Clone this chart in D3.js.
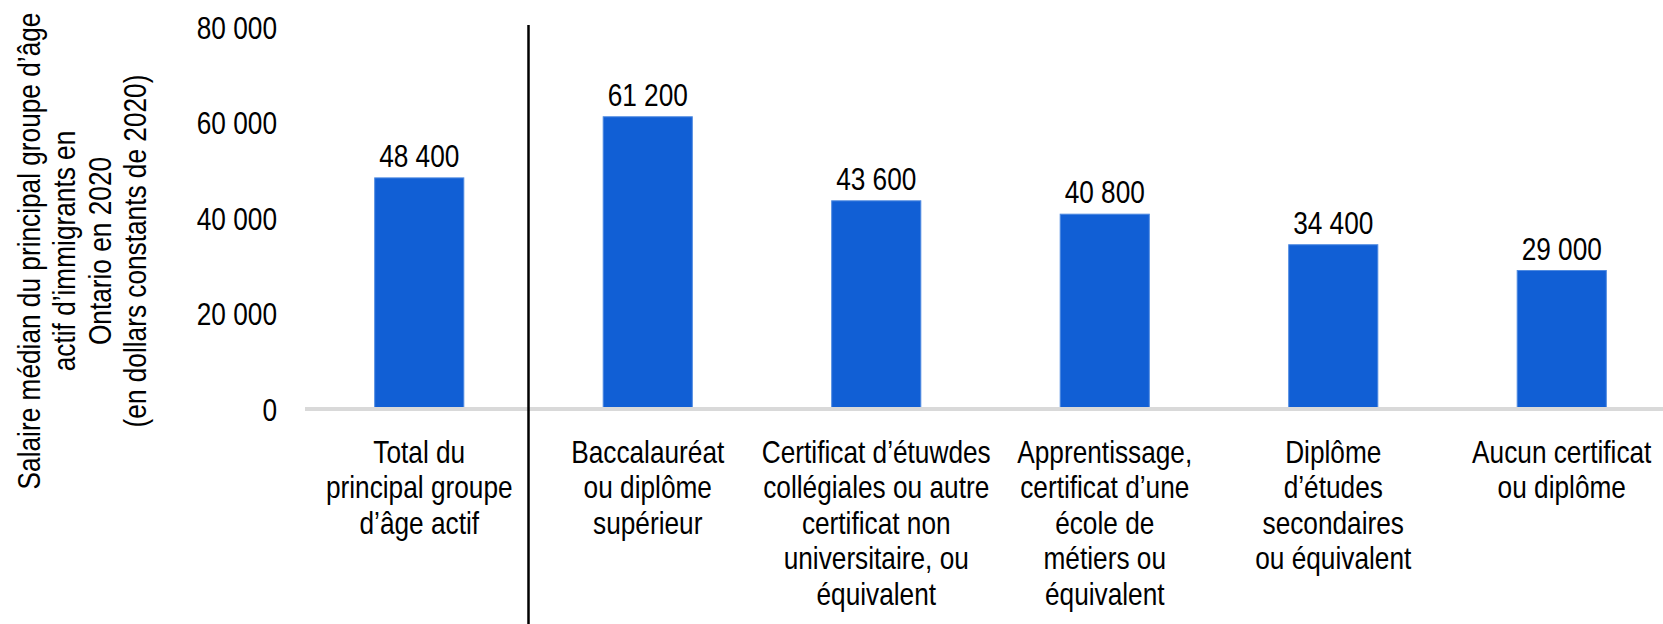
<html>
<head>
	<title>Salaire médian</title>
	<meta charset="utf-8">
	<script src="https://d3js.org/d3.v7.min.js"></script>
	<style>
		body { margin: 0; background: #fff; }
		text { font-family: "Liberation Sans", Arial, sans-serif; font-size: 32px; fill: #000; }
	</style>
</head>
<body>
	<script type="text/javascript">
		var width = 1663
		var height = 624
		var narrow = 0.82 // squeeze Liberation Sans to look like Arial Narrow

		// data
		var categories = ["total", "bac", "college", "apprent", "secondaire", "aucun"]
		var categoryLines = [
			["Total du", "principal groupe", "d\u2019âge actif"],
			["Baccalauréat", "ou diplôme", "supérieur"],
			["Certificat d\u2019étuwdes", "collégiales ou autre", "certificat non", "universitaire, ou", "équivalent"],
			["Apprentissage,", "certificat d\u2019une", "école de", "métiers ou", "équivalent"],
			["Diplôme", "d\u2019études", "secondaires", "ou équivalent"],
			["Aucun certificat", "ou diplôme"]
		]
		var salaries = [48400, 61200, 43600, 40800, 34400, 29000]
		var yTicks = [0, 20000, 40000, 60000, 80000]
		var yTitleLines = ["Salaire médian du principal groupe d\u2019âge", "actif d\u2019immigrants en", "Ontario en 2020", "(en dollars constants de 2020)"]

		var fmt = function(v) { return d3.format(",")(v).replace(/,/g, " ") }

		var svg = d3.select("body").append("svg")
			.attr("width", width)
			.attr("height", height)

		var x = d3.scaleBand()
			.domain(categories)
			.range([305, 1676])
			.paddingInner(0.61)
			.paddingOuter(0.305)

		var y = d3.scaleLinear()
			.domain([0, 80000])
			.range([409, 27])

		// y tick labels
		svg.selectAll(".ytick")
			.data(yTicks)
			.enter()
			.append("g")
			.attr("class", "ytick")
			.attr("transform", d => "translate(277," + y(d) + ") scale(" + narrow + ",1)")
			.append("text")
			.attr("dy", "0.36em")
			.attr("text-anchor", "end")
			.text(d => fmt(d))

		// bars
		svg.selectAll(".bar")
			.data(salaries)
			.enter()
			.append("rect")
			.attr("class", "bar")
			.attr("x", (d, i) => x(categories[i]))
			.attr("width", x.bandwidth())
			.attr("y", d => y(d))
			.attr("height", d => y(0) - y(d))
			.attr("fill", "#115fd5")
			.attr("stroke", "#4f8ae0")
			.attr("stroke-width", 1)

		// baseline
		svg.append("line")
			.attr("x1", 305)
			.attr("x2", width)
			.attr("y1", y(0))
			.attr("y2", y(0))
			.attr("stroke", "#d9d9d9")
			.attr("stroke-width", 4)

		// separator between total and the rest
		var sepX = x(categories[0]) + x.bandwidth() + (x(categories[1]) - x(categories[0]) - x.bandwidth()) / 2 - 5
		svg.append("line")
			.attr("x1", sepX)
			.attr("x2", sepX)
			.attr("y1", 25)
			.attr("y2", height)
			.attr("stroke", "#000")
			.attr("stroke-width", 2.5)

		// value labels
		svg.selectAll(".val")
			.data(salaries)
			.enter()
			.append("g")
			.attr("class", "val")
			.attr("transform", (d, i) => "translate(" + (x(categories[i]) + x.bandwidth() / 2) + "," + (y(d) - 11) + ") scale(" + narrow + ",1)")
			.append("text")
			.attr("text-anchor", "middle")
			.text(d => fmt(d))

		// category labels
		var cat = svg.selectAll(".cat")
			.data(categoryLines)
			.enter()
			.append("g")
			.attr("class", "cat")
			.attr("transform", (d, i) => "translate(" + (x(categories[i]) + x.bandwidth() / 2) + ",0) scale(" + narrow + ",1)")
			.append("text")
			.attr("text-anchor", "middle")
		cat.selectAll("tspan")
			.data(d => d)
			.enter()
			.append("tspan")
			.attr("x", 0)
			.attr("y", (d, j) => 463 + j * 35.5)
			.text(d => d)

		// y axis title
		var yt = svg.append("text")
			.attr("transform", "translate(2,251) rotate(-90) scale(" + narrow + ",1)")
			.attr("text-anchor", "middle")
		yt.selectAll("tspan")
			.data(yTitleLines)
			.enter()
			.append("tspan")
			.attr("x", 0)
			.attr("y", (d, j) => 38 + j * 35.5)
			.text(d => d)
	</script>
</body>
</html>
